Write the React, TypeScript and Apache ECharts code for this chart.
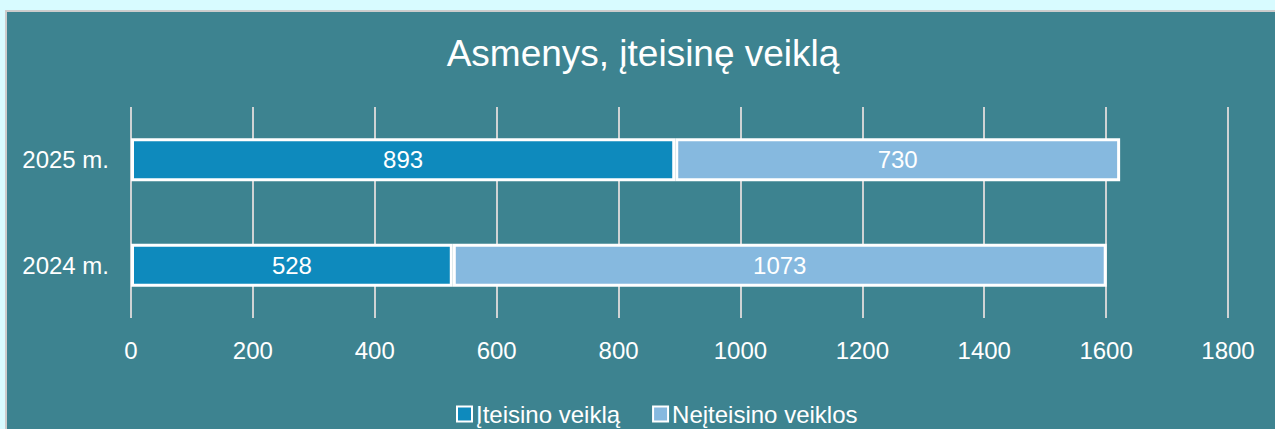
import React, { useEffect, useRef } from "react";
import * as echarts from "echarts";

const categories = ["2024 m.", "2025 m."];
const legalValues = [528, 893];
const illegalValues = [1073, 730];
const seriesNames = ["Įteisino veiklą", "Neįteisino veiklos"];
const xTicks = { min: 0, max: 1800, interval: 200 };

export default function App() {
  const ref = useRef<HTMLDivElement>(null);
  useEffect(() => {
    if (!ref.current) return;
    const chart = echarts.init(ref.current, null, { renderer: "svg" });
    const font = "'Liberation Sans', Arial, sans-serif";
    const labelStyle = { show: true, position: "inside", color: "#ffffff", fontSize: 24, fontFamily: font };
    chart.setOption({
      animation: false,
      backgroundColor: "#3d8390",
      textStyle: { fontFamily: font },
      title: {
        text: "Asmenys, įteisinę veiklą",
        left: "center",
        top: 18,
        textStyle: { color: "#ffffff", fontSize: 37, fontWeight: "normal", fontFamily: font },
      },
      legend: {
        left: 444,
        top: 385,
        itemWidth: 15,
        itemHeight: 15,
        itemGap: 32,
        icon: "rect",
        textStyle: { color: "#ffffff", fontSize: 24, fontFamily: font, padding: [0, 0, 0, -1] },
        data: seriesNames,
      },
      grid: { left: 124, right: 51, top: 95, height: 211, containLabel: false },
      xAxis: {
        type: "value",
        min: xTicks.min,
        max: xTicks.max,
        interval: xTicks.interval,
        axisLine: { show: false },
        axisTick: { show: false },
        axisLabel: { color: "#ffffff", fontSize: 24, margin: 20, fontFamily: font, formatter: (v: number) => String(v) },
        splitLine: { lineStyle: { color: "#cfd3d4", width: 2 } },
      },
      yAxis: {
        type: "category",
        data: categories,
        axisLine: { show: false },
        axisTick: { show: false },
        axisLabel: { color: "#ffffff", fontSize: 24, margin: 22, fontFamily: font },
      },
      series: [
        {
          name: seriesNames[0],
          type: "bar",
          stack: "total",
          barWidth: 43,
          data: legalValues,
          itemStyle: { color: "#0e8abd", borderColor: "#ffffff", borderWidth: 3 },
          label: labelStyle,
        },
        {
          name: seriesNames[1],
          type: "bar",
          stack: "total",
          barWidth: 43,
          data: illegalValues,
          itemStyle: { color: "#86b9df", borderColor: "#ffffff", borderWidth: 3 },
          label: labelStyle,
        },
      ],
    });
    return () => chart.dispose();
  }, []);

  return (
    <div style={{ position: "fixed", left: 0, top: 0, width: 1275, height: 429, background: "#d8fbff", overflow: "hidden" }}>
      <div
        style={{
          position: "absolute",
          left: 5,
          top: 10,
          border: "2px solid #cccccc",
          width: 1272,
          height: 440,
        }}
      >
        <div ref={ref} style={{ width: 1272, height: 440 }} />
      </div>
    </div>
  );
}
